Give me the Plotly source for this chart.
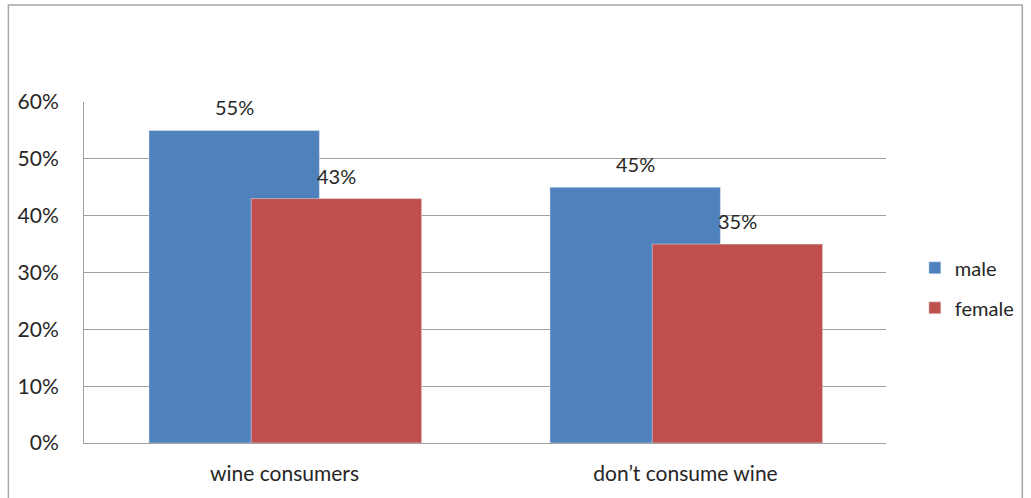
import plotly.graph_objects as go

categories = ["wine consumers", "don\u2019t consume wine"]
male = [0.55, 0.45]
female = [0.43, 0.35]
y_ticks = [0, 0.1, 0.2, 0.3, 0.4, 0.5, 0.6]
y_tick_labels = ["0%", "10%", "20%", "30%", "40%", "50%", "60%"]

BLUE = "#4F81BD"
RED = "#C0504D"
TXT = "#262626"
GRID = "#A0A0A0"
FONT = "Lato"
FS = 21

bar_w = 0.425
male_off = -0.338
female_off = -0.083

xs = list(range(len(categories)))

fig = go.Figure()
fig.add_trace(go.Bar(x=xs, y=male, name="male", marker_color=BLUE,
                     width=bar_w, offset=male_off, legendgroup="m"))
fig.add_trace(go.Bar(x=xs, y=female, name="female", marker_color=RED,
                     width=bar_w, offset=female_off, legendgroup="f"))

annotations = []
for vals, off in ((male, male_off), (female, female_off)):
    for i, v in enumerate(vals):
        annotations.append(dict(x=i + off + bar_w / 2, y=v, xref="x", yref="y",
                                text=f"{round(v*100)}%", showarrow=False,
                                yshift=23, font=dict(family=FONT, size=FS - 1, color=TXT)))

fig.update_layout(
    width=1031, height=498,
    margin=dict(l=84, r=141, t=102, b=55),
    paper_bgcolor="white", plot_bgcolor="white",
    barmode="overlay",
    font=dict(family=FONT, size=FS, color=TXT),
    showlegend=True,
    legend=dict(x=1.036, y=0.455, xanchor="left", yanchor="middle",
                traceorder="grouped", tracegroupgap=11, itemwidth=30,
                font=dict(family=FONT, size=FS - 1, color=TXT)),
    annotations=annotations,
    shapes=[dict(type="rect", xref="paper", yref="paper",
                 x0=(8 - 84) / 806, x1=(1027 - 84) / 806,
                 y0=-0.3, y1=(443 - 5) / 341,
                 line=dict(color="#A6A6A6", width=1.5))],
)
fig.update_xaxes(range=[-0.5, 1.5], tickvals=xs, ticktext=categories,
                 showline=True, linecolor=GRID, linewidth=1, showgrid=False,
                 ticks="", ticklabelstandoff=12, zeroline=False)
fig.update_yaxes(range=[0, 0.6], tickvals=y_ticks, ticktext=y_tick_labels,
                 showline=True, linecolor=GRID, linewidth=1,
                 showgrid=True, gridcolor=GRID, gridwidth=1,
                 ticks="", ticklabelstandoff=20, zeroline=False)

fig.write_html("out.html")
